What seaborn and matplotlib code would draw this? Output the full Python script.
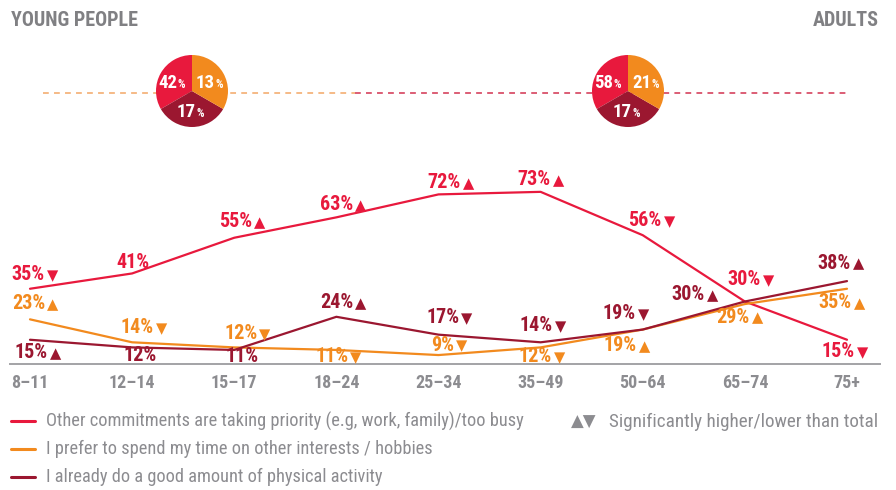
import numpy as np
import pandas as pd
import seaborn as sns
import matplotlib
matplotlib.use("Agg")
import matplotlib.pyplot as plt
from matplotlib.lines import Line2D
from matplotlib import font_manager

# ---- data -------------------------------------------------------------
age_groups = ["8–11", "12–14", "15–17", "18–24", "25–34", "35–49", "50–64", "65–74", "75+"]

busy = [35, 41, 55, 63, 72, 73, 56, 30, 15]
hobbies = [23, 14, 12, 11, 9, 12, 19, 29, 35]
active = [15, 12, 11, 24, 17, 14, 19, 30, 38]

# significance vs total: 1 = higher, -1 = lower, 0 = not significant
busy_sig = [-1, 0, 1, 1, 1, 1, -1, -1, -1]
hobbies_sig = [1, -1, -1, -1, -1, -1, 1, 1, 1]
active_sig = [1, 0, 0, 1, -1, -1, -1, 1, 1]

series_names = [
    "Other commitments are taking priority (e.g, work, family)/too busy",
    "I prefer to spend my time on other interests / hobbies",
    "I already do a good amount of physical activity",
]

young_pie = [42, 13, 17]
adult_pie = [58, 21, 17]

# ---- styling ----------------------------------------------------------
RED = "#E8193D"
ORANGE = "#F28A1E"
DARK = "#9B1730"
GREY = "#8C8C90"
COLORS = [RED, ORANGE, DARK]

sns.set_theme(style="white")

# prefer a narrow typeface when one is available
installed = {f.name for f in font_manager.fontManager.ttflist}
FONT = next((f for f in ["Roboto Condensed", "Liberation Sans Narrow", "Open Sans Condensed",
                         "Roboto", "DejaVu Sans"] if f in installed), "DejaVu Sans")
plt.rcParams["font.family"] = [FONT, "DejaVu Sans"]
SYM = ["DejaVu Sans"]

# label offsets (pixels, relative to each point: dx right, dy up)
busy_off = [(5, 14), (1, 11), (8, 16), (7, 13), (12, 12), (0, 12), (9, 15), (6, 22), (-2, -12)]
hobbies_off = [(5, 16), (12, 15), (13, 14), (2, -7), (11, 10), (1, -9), (-16, -16), (-5, -13), (-5, -14)]
active_off = [(8, -13), (8, -8), (8, -7), (7, 14), (11, 17), (2, 17), (-17, 16), (-50, 7), (-6, 18)]

W, H = 896, 490
fig = plt.figure(figsize=(W / 100, H / 100), dpi=100)

# background layer in pixel coordinates for decorations
bg = fig.add_axes([0, 0, 1, 1])
bg.set_xlim(0, W)
bg.set_ylim(H, 0)
bg.axis("off")

# main line chart
x_left, x_right, y_top, y_bot = 10, 880, 160, 364
ax = fig.add_axes([x_left / W, 1 - y_bot / H, (x_right - x_left) / W, (y_bot - y_top) / H])

df = pd.DataFrame({
    "age": np.tile(np.arange(len(age_groups)), 3),
    "value": busy + hobbies + active,
    "series": np.repeat(series_names, len(age_groups)),
})
sns.lineplot(data=df, x="age", y="value", hue="series", palette=COLORS,
             hue_order=series_names, linewidth=1.6, legend=False, ax=ax, zorder=3)

# x-scale: first point at px 30, last at px 847
step = (847 - 30) / 8
ax.set_xlim(-(30 - x_left) / step, 8 + (x_right - 847) / step)
# y-scale: 0% at px 378, 2.55 px per percent
ax.set_ylim((378 - y_bot) / 2.55, (378 - y_top) / 2.55)

for s in ["top", "right", "left"]:
    ax.spines[s].set_visible(False)
ax.spines["bottom"].set_color("#A3A3A6")
ax.spines["bottom"].set_linewidth(1.4)
ax.set_yticks([])
ax.set_xticks(range(len(age_groups)))
ax.set_xticklabels(age_groups, fontsize=13, fontweight="bold", color=GREY)
ax.tick_params(axis="x", length=0, pad=7)
ax.set_xlabel("")
ax.set_ylabel("")
ax.patch.set_alpha(0)

# value labels with significance arrows
labels = []
for vals, sigs, offs, col in zip([busy, hobbies, active],
                                 [busy_sig, hobbies_sig, active_sig],
                                 [busy_off, hobbies_off, active_off], COLORS):
    for i, (v, sg, (dx, dy)) in enumerate(zip(vals, sigs, offs)):
        num = ax.annotate(f"{v}%", xy=(i, v), xytext=(dx, dy), textcoords="offset pixels",
                          ha="center", va="center", fontsize=14.5, fontweight="bold",
                          color=col, zorder=5, annotation_clip=False)
        tri = None
        if sg != 0:
            tri = ax.annotate("▲" if sg > 0 else "▼", xy=(i, v), xytext=(dx, dy),
                              textcoords="offset pixels", ha="left", va="center",
                              fontsize=10.5, color=col, family=SYM, zorder=5,
                              annotation_clip=False)
        labels.append((num, tri, dx, dy))

# headers
bg.text(11, 21, "YOUNG PEOPLE", fontsize=14.5, fontweight="bold", color="#808083",
        ha="left", va="center")
bg.text(879, 21, "ADULTS", fontsize=14.5, fontweight="bold", color="#808083",
        ha="right", va="center")

# dashed divider through the two pies
bg.plot([43, 355], [93, 93], color="#F5B47D", lw=1.3, dashes=(3.2, 2.9), zorder=1)
bg.plot([355, 848], [93, 93], color="#D9506A", lw=1.3, dashes=(3.2, 2.9), zorder=1)


def draw_pie(cx, cy):
    r = 36
    pax = fig.add_axes([(cx - r) / W, 1 - (cy + r) / H, 2 * r / W, 2 * r / H])
    # three equal segments: left, bottom, right
    pax.pie(np.ones(3), colors=[RED, DARK, ORANGE], startangle=90, counterclock=True,
            radius=1.0, wedgeprops=dict(linewidth=0))
    pax.set_xlim(-1, 1)
    pax.set_ylim(-1, 1)
    pax.set_aspect("equal")
    pax.axis("off")


draw_pie(192, 91)
draw_pie(628, 91)

# overlay layer (pie figures, legend)
fg = fig.add_axes([0, 0, 1, 1])
fg.set_xlim(0, W)
fg.set_ylim(H, 0)
fg.axis("off")
fg.patch.set_alpha(0)


def pie_labels(cx, cy, vals):
    spots = [(cx - 19, cy - 8), (cx + 19, cy - 8), (cx, cy + 21)]
    for v, (tx, ty) in zip(vals, spots):
        fg.text(tx + 4, ty, f"{v}", fontsize=13.5, fontweight="bold", color="white",
                ha="right", va="center")
        fg.text(tx + 4.5, ty + 1.5, "%", fontsize=8.5, fontweight="bold", color="white",
                ha="left", va="center")


pie_labels(192, 91, young_pie)
pie_labels(628, 91, adult_pie)

# legend
for k, (name, col) in enumerate(zip(series_names, COLORS)):
    y = 421 + 28 * k
    fg.add_line(Line2D([11, 35], [y, y], color=col, lw=2.2))
    fg.text(46, y, name, fontsize=13.2, color=GREY, ha="left", va="center")

sig_txt = fg.text(878, 422, "Significantly higher/lower than total", fontsize=13.8,
                  color=GREY, ha="right", va="center")
sig_sym = fg.text(0, 422, "▲▼", fontsize=12, color=GREY, family=SYM,
                  ha="right", va="center")

# position arrows next to their numbers once text sizes are known
fig.canvas.draw()
renderer = fig.canvas.get_renderer()
for num, tri, dx, dy in labels:
    if tri is None:
        continue
    wn = num.get_window_extent(renderer).width
    wt = tri.get_window_extent(renderer).width
    gap = 2
    total = wn + gap + wt
    left = dx - total / 2
    num.set_ha("left")
    num.xyann = (left, dy)
    tri.xyann = (left + wn + gap, dy - 1)

sig_left = sig_txt.get_window_extent(renderer).x0
sig_sym.set_x(sig_left - 12)

fig.savefig("out.png", dpi=100)
